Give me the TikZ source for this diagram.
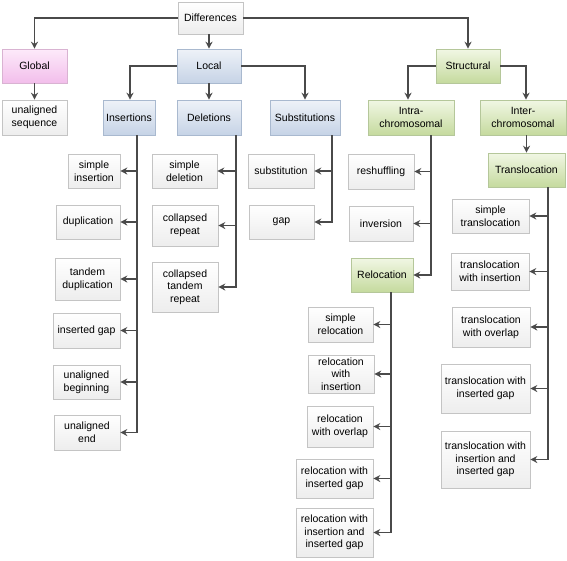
\documentclass[tikz,border=0pt]{standalone}
\usepackage{fontspec}
\setmainfont{Liberation Sans}
\usetikzlibrary{arrows.meta,shadows}
\definecolor{arrc}{HTML}{4A4A4A}
\definecolor{bordc}{HTML}{C4C4C4}
\definecolor{bluebord}{HTML}{A9B9CF}
\definecolor{greenbord}{HTML}{B5C79A}
\definecolor{pinkbord}{HTML}{D9B3D2}
\tikzset{
  box/.style={draw=bordc, line width=0.6pt, top color=white, bottom color=black!7,
    align=center, inner sep=1pt, font=\fontsize{10.5}{12.7}\selectfont,
    drop shadow={shadow xshift=1pt, shadow yshift=-1pt, opacity=0.25, fill=black!60}},
  bluebox/.style={box, draw=bluebord, top color=HTML_EEF2F8, bottom color=HTML_C6D3E6},
  greenbox/.style={box, draw=greenbord, top color=HTML_F1F7E4, bottom color=HTML_C5DA9E},
  pinkbox/.style={box, draw=pinkbord, top color=HTML_FDEAFA, bottom color=HTML_F2BEEB},
  arr/.style={draw=arrc, line width=1.3pt, -{Stealth[length=7pt,width=7pt]}},
}
\definecolor{HTML_EEF2F8}{HTML}{EEF2F8}
\definecolor{HTML_C6D3E6}{HTML}{C6D3E6}
\definecolor{HTML_F1F7E4}{HTML}{F1F7E4}
\definecolor{HTML_C5DA9E}{HTML}{C5DA9E}
\definecolor{HTML_FDEAFA}{HTML}{FDEAFA}
\definecolor{HTML_F2BEEB}{HTML}{F2BEEB}
\newcommand{\bx}[6]{\node[#1, minimum width=#4pt, minimum height=#5pt] (#2) at (#3) {#6};}
\begin{document}
\begin{tikzpicture}[x=1pt,y=-1pt]
\useasboundingbox (0,0) rectangle (567,560);
% level 0-1
\bx{box}{diff}{210.5,18}{65}{32}{Differences}
\bx{pinkbox}{glob}{34.5,66}{65}{34}{Global}
\bx{bluebox}{local}{209,66}{64}{34}{Local}
\bx{greenbox}{struct}{468,66}{64}{34}{Structural}
% level 2
\bx{box}{unal}{34.5,117.5}{65}{35}{unaligned\\sequence}
\bx{bluebox}{ins}{129,117.5}{52}{35}{Insertions}
\bx{bluebox}{del}{209,117.5}{64}{35}{Deletions}
\bx{bluebox}{subs}{305,117.5}{70}{35}{Substitutions}
\bx{greenbox}{intra}{411,117.5}{86}{35}{Intra-\\chromosomal}
\bx{greenbox}{inter}{523,117.5}{86}{35}{Inter-\\chromosomal}
\bx{greenbox}{transl}{526.5,170}{77}{34}{Translocation}
% insertions
\bx{box}{simpins}{94,171}{52}{34}{simple\\insertion}
\bx{box}{dup}{88,222}{64}{34}{duplication}
\bx{box}{tdup}{87.5,279}{65}{42}{tandem\\duplication}
\bx{box}{insgap}{86.5,330.5}{67}{35}{inserted gap}
\bx{box}{unbeg}{86.5,382}{67}{34}{unaligned\\beginning}
\bx{box}{unend}{87,432.5}{66}{35}{unaligned\\end}
% deletions
\bx{box}{simpdel}{184.5,171}{65}{34}{simple\\deletion}
\bx{box}{colrep}{185,225.5}{66}{41}{collapsed\\repeat}
\bx{box}{coltrep}{185,287}{66}{50}{collapsed\\tandem\\repeat}
% substitutions
\bx{box}{substn}{281,171}{66}{34}{substitution}
\bx{box}{gap}{281.5,222}{65}{34}{gap}
% intra
\bx{box}{resh}{381,171.5}{66}{35}{reshuffling}
\bx{box}{inv}{381,223.5}{64}{35}{inversion}
\bx{greenbox}{reloc}{382,275}{62}{34}{Relocation}
% relocation
\bx{box}{simprel}{340.5,324.5}{65}{35}{simple\\relocation}
\bx{box}{relins}{341,374}{66}{38}{relocation\\with\\insertion}
\bx{box}{relovl}{340,426.5}{66}{41}{relocation\\with overlap}
\bx{box}{relgap}{334.5,478.5}{77}{39}{relocation with\\inserted gap}
\bx{box}{relinsgap}{334.5,532.5}{77}{49}{relocation with\\insertion and\\inserted gap}
% translocation
\bx{box}{simptr}{490.5,216}{77}{34}{simple\\translocation}
\bx{box}{trins}{490,271.5}{78}{37}{translocation\\with insertion}
\bx{box}{trovl}{491,327}{78}{40}{translocation\\with overlap}
\bx{box}{trgap}{485.5,388.5}{89}{49}{translocation with\\inserted gap}
\bx{box}{trinsgap}{485.5,459.5}{89}{57}{translocation with\\insertion and\\inserted gap}
% connectors top
\draw[arr] (diff.west) -| (glob.north);
\draw[arr] (local.north |- diff.south) -- (local.north);
\draw[arr] (diff.east) -| (struct.north);
\draw[arr] (glob.south) -- (unal.north);
\draw[arr] (local.west) -| ([xshift=1pt]ins.north);
\draw[arr] (local.south) -- (del.north);
\draw[arr] (local.east) -| (subs.north);
\draw[arr] (struct.west) -| ([xshift=-3pt]intra.north);
\draw[arr] (struct.east) -| ([xshift=3pt]inter.north);
\draw[arr] (transl.north |- inter.south) -- (transl.north);
% trunk coordinates
\coordinate (insT) at (137,0);
\coordinate (delT) at (236,0);
\coordinate (subT) at (332,0);
\coordinate (intraT) at (431,0);
\coordinate (relT) at (391,0);
\coordinate (trT) at (548,0);
\foreach \n in {simpins,dup,tdup,insgap,unbeg,unend}
  \draw[arr] (insT |- ins.south) |- (\n.east);
\foreach \n in {simpdel,colrep,coltrep}
  \draw[arr] (delT |- del.south) |- (\n.east);
\foreach \n in {substn,gap}
  \draw[arr] (subT |- subs.south) |- (\n.east);
\foreach \n in {resh,inv,reloc}
  \draw[arr] (intraT |- intra.south) |- (\n.east);
\foreach \n in {simprel,relins,relovl,relgap,relinsgap}
  \draw[arr] (relT |- reloc.south) |- (\n.east);
\foreach \n in {simptr,trins,trovl,trgap,trinsgap}
  \draw[arr] (trT |- transl.south) |- (\n.east);
\end{tikzpicture}
\end{document}
